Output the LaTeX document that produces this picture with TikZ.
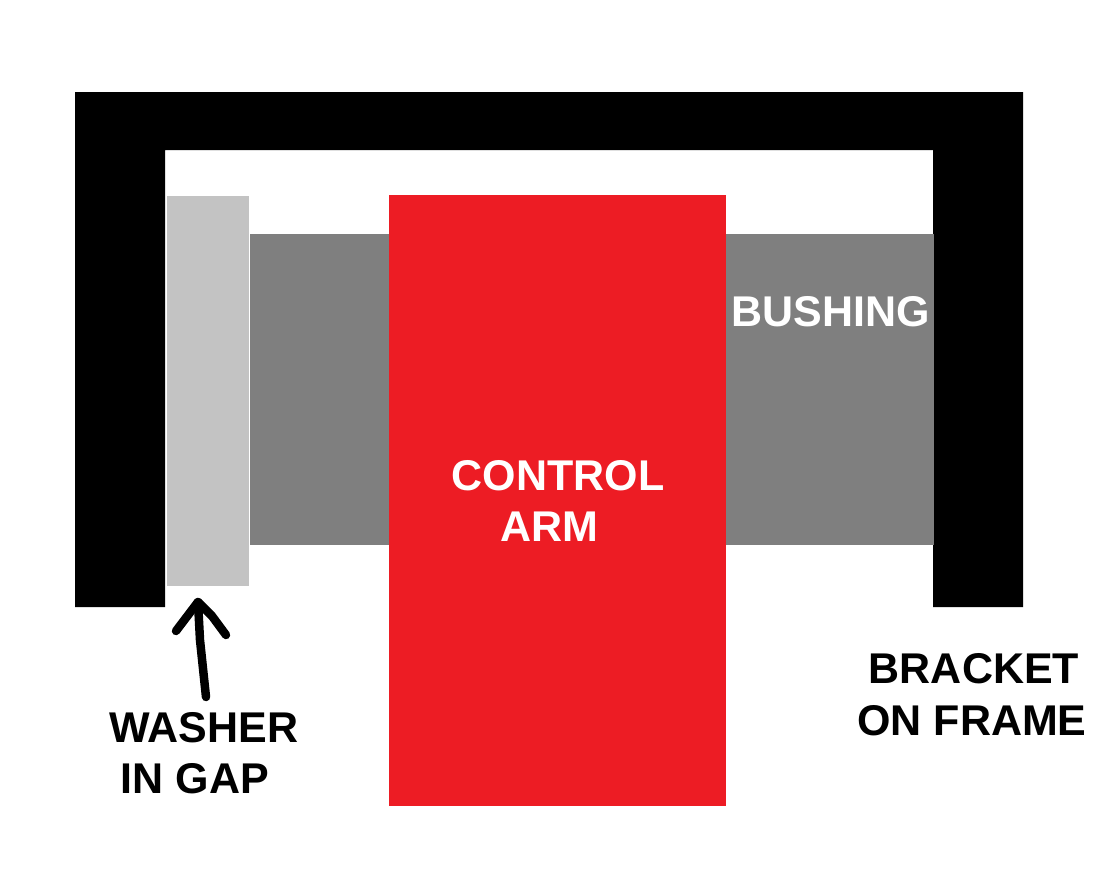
\documentclass[tikz,border=0pt]{standalone}
\usepackage{fontspec}
\setmainfont{Liberation Sans}
\usepackage{tikz}
\tikzset{
  partlabel/.style={anchor=base,inner sep=0pt,font=\fontsize{43}{50}\selectfont\bfseries},
  whitelabel/.style={partlabel,text=white},
  blacklabel/.style={partlabel,text=black}
}
\definecolor{armred}{RGB}{237,28,36}
\definecolor{bushgray}{RGB}{127,127,127}
\definecolor{washgray}{RGB}{195,195,195}

\begin{document}
\begin{tikzpicture}[x=1pt,y=-1pt]
  \useasboundingbox (0,0) rectangle (1114,891);
  % bracket
  \fill[black] (75,607)--(75,92)--(1023,92)--(1023,607)--(933,607)--(933,150)--(165,150)--(165,607)--cycle;
  % bushing, washer, arm
  \fill[bushgray] (250,234) rectangle (934,545);
  \fill[washgray] (167,196) rectangle (249,586);
  \fill[armred] (389,195) rectangle (726,806);
  % labels
  \node[whitelabel] (bushing) at (831,326) {BUSHING};
  \node[whitelabel] (control) at (558,490) {CONTROL};
  \node[whitelabel] (arm) at (549,541) {ARM};
  \node[blacklabel] (bracket) at (974,683) {BRACKET};
  \node[blacklabel] (frame) at (972,735) {ON FRAME};
  \node[blacklabel] (washer) at (204,742) {WASHER};
  \node[blacklabel] (gap) at (195,793) {IN GAP};
  % hand drawn arrow up to the washer
  \coordinate (tail) at (206,697); \coordinate (tip) at (198,602);
  \coordinate (barbL) at (176,631); \coordinate (barbR) at (226,635);
  \draw[line width=8.5pt,line cap=round,line join=round] (tail)--(200,640)--(tip);
  \draw[line width=8.5pt,line cap=round,line join=round] (barbL)--(tip)--(212,616)--(barbR);
\end{tikzpicture}
\end{document}
